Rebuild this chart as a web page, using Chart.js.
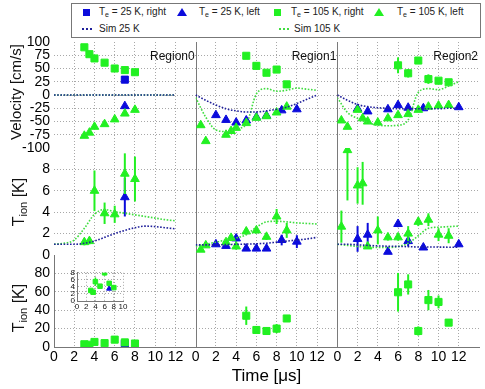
<!DOCTYPE html>
<html>
<head>
<meta charset="utf-8">
<script src="https://cdn.jsdelivr.net/npm/chart.js@4.4.1/dist/chart.umd.min.js"></script>
<style>
  body { margin: 0; background: #fff; font-family: 'Liberation Sans', Arial, sans-serif; }
  #wrap { position: relative; width: 485px; height: 389px; overflow: hidden; }
  #main { position: absolute; left: 0; top: 0; }
  #inset { position: absolute; left: 60px; top: 266px; }
  .legend { position: absolute; left: 71px; top: 3px; width: 410px; height: 35px; border: 1px solid #777; box-sizing: border-box; background: #fff; }
  .item { position: absolute; font-size: 10px; color: #222; white-space: nowrap; line-height: 12px; }
  .item sub { font-size: 7px; vertical-align: -2px; }
  .sq { position: absolute; width: 7px; height: 7px; }
  .tri { position: absolute; width: 0; height: 0; border-left: 5px solid transparent; border-right: 5px solid transparent; border-bottom: 8px solid; }
  .dots { position: absolute; width: 10px; height: 0; border-top: 2px dotted; }
  .ytitle { position: absolute; width: 140px; height: 20px; line-height: 20px; text-align: center; transform: rotate(-90deg); white-space: nowrap; color: #111; }
  .ytitle sub { font-size: 11px; vertical-align: -3px; }
</style>
</head>
<body>
<div id="wrap">
  <canvas id="main" width="485" height="389"></canvas>
  <canvas id="inset" width="70" height="50"></canvas>

  <div class="legend">
    <span class="sq" style="left:11px;top:5px;background:#0b0bdc"></span>
    <span class="item" style="left:27px;top:2px">T<sub>e</sub> = 25 K, right</span>
    <span class="tri" style="left:105px;top:4px;border-bottom-color:#0b0bdc"></span>
    <span class="item" style="left:127px;top:2px">T<sub>e</sub> = 25 K, left</span>
    <span class="sq" style="left:202px;top:5px;background:#22f022"></span>
    <span class="item" style="left:219px;top:2px">T<sub>e</sub> = 105 K, right</span>
    <span class="tri" style="left:302px;top:4px;border-bottom-color:#22f022"></span>
    <span class="item" style="left:325px;top:2px">T<sub>e</sub> = 105 K, left</span>
    <span class="dots" style="left:10px;top:24px;border-top-color:#20209a"></span>
    <span class="item" style="left:27px;top:19px">Sim 25 K</span>
    <span class="dots" style="left:207px;top:24px;border-top-color:#40dd40"></span>
    <span class="item" style="left:222px;top:19px">Sim 105 K</span>
  </div>

  <div class="ytitle" style="left:-54px;top:82px;font-size:15px">Velocity [cm/s]</div>
  <div class="ytitle" style="left:-51px;top:192px;font-size:16px">T<sub>ion</sub> [K]</div>
  <div class="ytitle" style="left:-51px;top:298px;font-size:16px">T<sub>ion</sub> [K]</div>
</div>

<script>
const FONT = "'Liberation Sans', Arial, sans-serif";
const GRID = '#a8a8a8';
const BLUE = '#0b0bdc';
const GREEN = '#22f022';
const SIM_BLUE = '#20209a';
const SIM_GREEN = '#40dd40';

// Simulation time axis (us)
const simTime = [0, 1, 2, 3, 4, 5, 6, 7, 8, 9, 10, 11, 12];

// Region0
const r0TimeRight25 = [7];
const r0VelRight25 = [29];
const r0TionRight25 = [3.5];
const r0TionRight25Err = [0.4];
const r0TimeLeft25 = [7];
const r0VelLeft25 = [-21];
const r0TionLeft25 = [5.4];
const r0TionLeft25Err = [1.8];
const r0TimeRight105 = [3, 3.5, 4, 5, 6, 7, 8];
const r0VelRight105 = [90, 77, 69, 61, 50, 47, 43];
const r0TionRight105 = [3, 2.5, 5.5, 4.2, 8, 5, 3.8];
const r0TionRight105Err = [0.4, 0.4, 1.2, 0.5, 0.8, 0.6, 0.5];
const r0TimeLeft105 = [3, 3.5, 4, 5, 6, 7, 8];
const r0VelLeft105 = [-77, -71, -60, -55, -46, -35, -28];
const r0TionLeft105 = [1.2, 1.3, 6.0, 3.9, 3.8, 7.6, 7.1];
const r0TionLeft105Err = [0.3, 0.3, 1.9, 1.0, 0.8, 1.9, 2.1];
const r0SimVel25 = [0, 0, 0, 0, 0, 0, 0, 0, 0, 0, 0, 0, 0];
const r0SimVel105 = [0, 0, 0, 0, 0, 0, 0, 0, 0, 0, 0, 0, 0];
const r0SimTion25 = [1.0, 1.0, 1.0, 1.1, 1.3, 1.65, 2.0, 2.3, 2.55, 2.7, 2.65, 2.55, 2.45];
const r0SimTion105 = [1.0, 1.1, 1.4, 2.5, 3.8, 4.25, 4.05, 3.9, 3.75, 3.6, 3.45, 3.3, 3.2];

// Region1
const r1TimeLeft25 = [2, 3, 4, 5, 6, 7, 8.5, 10];
const r1VelLeft25 = [-38, -47, -52, -48, -42, -39, -29, -27];
const r1TionLeft25 = [1.0, 0.85, 1.55, 0.6, 0.6, 0.6, 1.4, 1.25];
const r1TionLeft25Err = [0.2, 0.2, 0.3, 0.2, 0.2, 0.2, 0.5, 0.6];
const r1TimeRight105 = [5, 6, 7, 8, 9];
const r1VelRight105 = [74, 55, 42, 48, 20];
const r1TionRight105 = [34, 18.5, 17.4, 20, 31];
const r1TionRight105Err = [10, 4, 4, 5, 2];
const r1TimeLeft105 = [0.5, 1, 3, 3.5, 4, 5, 6, 7, 8, 9];
const r1VelLeft105 = [-57, -87, -75, -68, -62, -53, -43, -40, -33, -22];
const r1TionLeft105 = [0.5, 0.9, 1.2, 1.6, 0.8, 2.2, 2.3, 1.7, 3.6, 2.3];
const r1TionLeft105Err = [0.2, 0.2, 0.2, 0.3, 0.3, 0.3, 0.3, 0.3, 0.7, 0.7];
const r1SimVel25 = [0, -10, -19, -26, -30, -32, -32, -30, -27, -23, -16, -8, 0];
const r1SimVel105 = [-5, -42, -66, -69, -64, -55, 2, 12, 7, 9, 13, 11, 9];
const r1SimTion25 = [0.95, 0.95, 0.95, 0.97, 1.0, 1.02, 1.05, 1.1, 1.2, 1.3, 1.4, 1.5, 1.65];
const r1SimTion105 = [0.8, 1.0, 1.2, 1.4, 1.6, 1.9, 2.6, 3.1, 3.15, 3.1, 3.0, 2.95, 2.9];

// Region2
const r2TimeLeft25 = [2, 3, 5, 6, 7, 8.5, 12];
const r2VelLeft25 = [-26, -31, -27, -19, -24, -25, -23];
const r2TionLeft25 = [1.5, 1.9, 0.3, 2.9, 1.3, 0.7, 1.0];
const r2TionLeft25Err = [1.2, 1.1, 0.2, 0.3, 0.5, 0.2, 0.2];
const r2TimeRight105 = [6, 7, 8, 9, 10, 11];
const r2VelRight105 = [56, 41, 65, 30, 27, 24];
const r2VelRight105Err = [15, 8, 0, 9, 3, 0];
const r2TionRight105 = [59.5, 68, 17.4, 51, 49, 26.5];
const r2TionRight105Err = [21, 11, 5, 11, 7, 3];
const r2TimeLeft105 = [0.4, 1, 2, 2.5, 3, 4, 5, 6, 7, 8, 9, 10, 11];
const r2VelLeft105 = [-48, -60, -28, -44, -50, -52, -44, -38, -36, -28, -22, -20, -19];
const r2TionLeft105 = [2.65, 9.8, 6.5, 6.7, 0.8, 2.3, 1.65, 1.65, 2.0, 3.1, 3.3, 1.9, 1.8];
const r2TionLeft105Err = [1.5, 4.7, 1.7, 2.0, 0.2, 1.3, 0.3, 0.3, 0.7, 0.4, 0.6, 0.6, 0.7];
const r2SimVel25 = [0, -10, -18, -22, -24, -25, -26, -26, -26, -26, -26, -25, -25];
const r2SimVel105 = [-5, -33, -44, -52, -57, -58, -57, -47, 5, 12, 10, 17, 25];
const r2SimTion25 = [1.0, 1.0, 0.95, 0.9, 0.85, 0.82, 0.8, 0.78, 0.75, 0.75, 0.74, 0.73, 0.72];
const r2SimTion105 = [1.0, 0.9, 0.8, 0.75, 0.7, 0.7, 0.8, 1.1, 1.8, 2.5, 2.6, 2.65, 2.7];

const regionNames = ['Region0', 'Region1', 'Region2'];

function pts(xs, ys) {
    return xs.map((x, i) => ({x: x, y: ys[i]}));
}

function marks(xs, ys, errs, color, style, xId, yId) {
    return {
        data: pts(xs, ys), errors: errs, xAxisID: xId, yAxisID: yId,
        showLine: false, pointStyle: style, pointRadius: 5, pointHoverRadius: 5,
        backgroundColor: color, borderColor: color, borderWidth: 1
    };
}

function sim(ys, color, xId, yId) {
    return {
        data: pts(simTime, ys), xAxisID: xId, yAxisID: yId,
        showLine: true, pointRadius: 0, borderColor: color, borderWidth: 1.6,
        borderDash: [1.6, 1.6], cubicInterpolationMode: 'monotone', fill: false
    };
}

// first dataset ends up on top: sims, then 105 K, then 25 K
const datasets = [
    sim(r0SimVel25, SIM_BLUE, 'x0', 'yv'), sim(r0SimTion25, SIM_BLUE, 'x0', 'yt'),
    sim(r1SimVel25, SIM_BLUE, 'x1', 'yv'), sim(r1SimTion25, SIM_BLUE, 'x1', 'yt'),
    sim(r2SimVel25, SIM_BLUE, 'x2', 'yv'), sim(r2SimTion25, SIM_BLUE, 'x2', 'yt'),
    sim(r0SimVel105, SIM_GREEN, 'x0', 'yv'), sim(r0SimTion105, SIM_GREEN, 'x0', 'yt'),
    sim(r1SimVel105, SIM_GREEN, 'x1', 'yv'), sim(r1SimTion105, SIM_GREEN, 'x1', 'yt'),
    sim(r2SimVel105, SIM_GREEN, 'x2', 'yv'), sim(r2SimTion105, SIM_GREEN, 'x2', 'yt'),

    marks(r0TimeRight105, r0VelRight105, null, GREEN, 'rect', 'x0', 'yv'),
    marks(r0TimeRight105, r0TionRight105, r0TionRight105Err, GREEN, 'rect', 'x0', 'yr'),
    marks(r0TimeLeft105, r0VelLeft105, null, GREEN, 'triangle', 'x0', 'yv'),
    marks(r0TimeLeft105, r0TionLeft105, r0TionLeft105Err, GREEN, 'triangle', 'x0', 'yt'),
    marks(r1TimeRight105, r1VelRight105, null, GREEN, 'rect', 'x1', 'yv'),
    marks(r1TimeRight105, r1TionRight105, r1TionRight105Err, GREEN, 'rect', 'x1', 'yr'),
    marks(r1TimeLeft105, r1VelLeft105, null, GREEN, 'triangle', 'x1', 'yv'),
    marks(r1TimeLeft105, r1TionLeft105, r1TionLeft105Err, GREEN, 'triangle', 'x1', 'yt'),
    marks(r2TimeRight105, r2VelRight105, r2VelRight105Err, GREEN, 'rect', 'x2', 'yv'),
    marks(r2TimeRight105, r2TionRight105, r2TionRight105Err, GREEN, 'rect', 'x2', 'yr'),
    marks(r2TimeLeft105, r2VelLeft105, null, GREEN, 'triangle', 'x2', 'yv'),
    marks(r2TimeLeft105, r2TionLeft105, r2TionLeft105Err, GREEN, 'triangle', 'x2', 'yt'),

    marks(r0TimeRight25, r0VelRight25, null, BLUE, 'rect', 'x0', 'yv'),
    marks(r0TimeRight25, r0TionRight25, r0TionRight25Err, BLUE, 'rect', 'x0', 'yr'),
    marks(r0TimeLeft25, r0VelLeft25, null, BLUE, 'triangle', 'x0', 'yv'),
    marks(r0TimeLeft25, r0TionLeft25, r0TionLeft25Err, BLUE, 'triangle', 'x0', 'yt'),
    marks(r1TimeLeft25, r1VelLeft25, null, BLUE, 'triangle', 'x1', 'yv'),
    marks(r1TimeLeft25, r1TionLeft25, r1TionLeft25Err, BLUE, 'triangle', 'x1', 'yt'),
    marks(r2TimeLeft25, r2VelLeft25, null, BLUE, 'triangle', 'x2', 'yv'),
    marks(r2TimeLeft25, r2TionLeft25, r2TionLeft25Err, BLUE, 'triangle', 'x2', 'yt'),
];

// vertical error bars, drawn under the markers
const errorBars = {
    id: 'errorBars',
    beforeDatasetDraw(chart, args) {
        const ds = chart.data.datasets[args.index];
        if (!ds.errors) return;
        const yScale = args.meta.yScale;
        const ctx = chart.ctx;
        ctx.save();
        ctx.strokeStyle = ds.borderColor;
        ctx.lineWidth = ds.errorWidth || 2;
        args.meta.data.forEach((pt, i) => {
            const e = ds.errors[i];
            if (!e) return;
            const v = ds.data[i].y;
            const top = Math.max(yScale.getPixelForValue(v + e), yScale.top);
            const bottom = Math.min(yScale.getPixelForValue(v - e), yScale.bottom);
            ctx.beginPath();
            ctx.moveTo(pt.x, top);
            ctx.lineTo(pt.x, bottom);
            ctx.stroke();
        });
        ctx.restore();
    }
};

// column separators and region names
const panels = {
    id: 'panels',
    beforeDatasetsDraw(chart) {
        const {ctx, chartArea} = chart;
        ctx.save();
        ctx.strokeStyle = '#7a7a7a';
        ctx.lineWidth = 1;
        ['x1', 'x2'].forEach(id => {
            const x = Math.round(chart.scales[id].left) + 0.5;
            ctx.beginPath();
            ctx.moveTo(x, chartArea.top);
            ctx.lineTo(x, chartArea.bottom);
            ctx.stroke();
        });
        ctx.restore();
    },
    afterDatasetsDraw(chart) {
        const ctx = chart.ctx;
        ctx.save();
        ctx.font = '12px ' + FONT;
        ctx.fillStyle = '#111';
        ctx.textAlign = 'right';
        ctx.textBaseline = 'middle';
        const y = chart.scales.yv.getPixelForValue(72);
        ['x0', 'x1', 'x2'].forEach((id, i) => {
            ctx.fillText(regionNames[i], chart.scales[id].right - 1, y);
        });
        ctx.restore();
    }
};

function gridColor(lo, hi) {
    return c => (c.tick.value === lo || c.tick.value === hi) ? 'transparent' : GRID;
}

function xAxis(title) {
    return {
        type: 'linear', position: 'bottom', stack: 'cols', stackWeight: 1,
        min: 0, max: 14,
        afterFit: s => { s.height = 42; },
        ticks: {
            stepSize: 2, padding: 2, color: '#000', autoSkip: false, maxRotation: 0,
            font: {size: 14, family: FONT},
            callback: v => v === 14 ? '' : v
        },
        grid: {color: gridColor(0, 14), drawTicks: false, lineWidth: 1},
        border: {display: true, color: '#777', dash: [1, 2]},
        title: {
            display: !!title, text: title, color: '#000',
            font: {size: 17, family: FONT}, padding: {top: 0, bottom: 2}
        }
    };
}

function yAxis(min, max, step, weight, stackWeight, showTop, showBorder) {
    return {
        type: 'linear', position: 'left', stack: 'rows', stackWeight: stackWeight, weight: weight,
        min: min, max: max,
        afterFit: s => { s.width = 54; },
        ticks: {
            stepSize: step, padding: 4, color: '#000', autoSkip: false,
            font: {size: 14, family: FONT},
            callback: v => (v === max && !showTop) ? '' : v
        },
        grid: {color: gridColor(min, max), drawTicks: false, lineWidth: 1},
        border: {display: showBorder, color: '#777', dash: [1, 2]}
    };
}

new Chart(document.getElementById('main'), {
    type: 'scatter',
    data: {datasets: datasets},
    options: {
        responsive: false,
        animation: false,
        layout: {padding: {top: 42, right: 2, left: 0, bottom: 0}},
        plugins: {legend: {display: false}, tooltip: {enabled: false}},
        scales: {
            x0: xAxis(''),
            x1: xAxis('Time [\u03bcs]'),
            x2: xAxis(''),
            yv: yAxis(-100, 100, 25, 3, 106, true, false),
            yt: yAxis(0, 10, 2, 2, 107, false, false),
            yr: yAxis(0, 100, 20, 1, 92, false, true)
        }
    },
    plugins: [errorBars, panels]
});

// inset: zoom on Region0 right-side ion temperature
new Chart(document.getElementById('inset'), {
    type: 'scatter',
    data: {
        datasets: [
            Object.assign(marks(r0TimeRight105, r0TionRight105, r0TionRight105Err, GREEN, 'rect', 'x', 'y'), {pointRadius: 3.2, errorWidth: 1.5}),
            Object.assign(marks(r0TimeRight25, r0TionRight25, null, BLUE, 'triangle', 'x', 'y'), {pointRadius: 3})
        ]
    },
    options: {
        responsive: false,
        animation: false,
        layout: {padding: {top: 6, right: 7, left: 0, bottom: 0}},
        plugins: {legend: {display: false}, tooltip: {enabled: false}},
        scales: {
            x: {
                min: 0, max: 10,
                afterFit: s => { s.height = 15; },
                ticks: {stepSize: 2, padding: 1, color: '#111', autoSkip: false, maxRotation: 0, font: {size: 8, family: FONT}},
                grid: {color: GRID, drawTicks: false},
                border: {display: true, color: '#777', dash: [1, 2]}
            },
            y: {
                min: 0, max: 8,
                afterFit: s => { s.width = 17; },
                ticks: {stepSize: 2, padding: 2, color: '#111', autoSkip: false, font: {size: 8, family: FONT}},
                grid: {color: GRID, drawTicks: false},
                border: {display: true, color: '#777', dash: [1, 2]}
            }
        }
    },
    plugins: [errorBars]
});
</script>
</body>
</html>
